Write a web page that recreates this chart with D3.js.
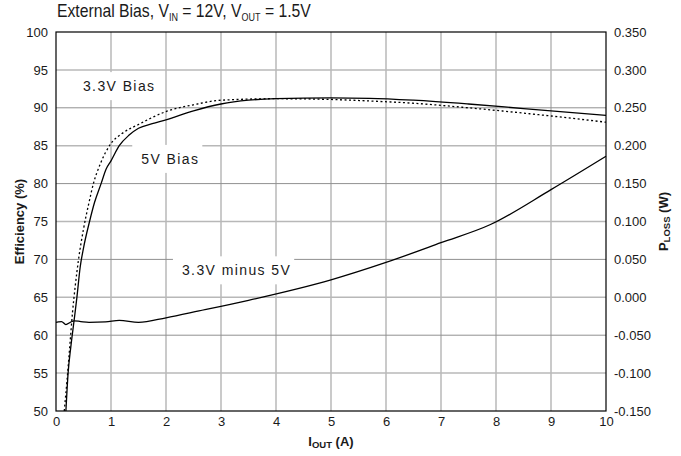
<!DOCTYPE html>
<html>
<head>
<meta charset="utf-8">
<script src="https://cdn.jsdelivr.net/npm/d3@7"></script>
<style>
  html, body { margin: 0; padding: 0; background: #fff; }
  svg { display: block; }
  text { font-family: Arial, "Liberation Sans", sans-serif; fill: #1a1a1a; }
</style>
</head>
<body>
<svg id="chart" width="681" height="456"></svg>
<script>
// ---- data ----
const xTicks = [0, 1, 2, 3, 4, 5, 6, 7, 8, 9, 10];
const effTicks = [50, 55, 60, 65, 70, 75, 80, 85, 90, 95, 100];
const lossTicks = [-0.15, -0.10, -0.05, 0.00, 0.05, 0.10, 0.15, 0.20, 0.25, 0.30, 0.35];

// 5V Bias efficiency (solid)
const iout5 = [0.18, 0.22, 0.27, 0.33, 0.38, 0.44, 0.5, 0.61, 0.7, 0.82, 0.91, 1.0, 1.15, 1.33, 1.5, 1.75, 2.0, 2.5, 3.0, 3.5, 4.0, 5.0, 5.7, 6.5, 7.5, 8.5, 10];
const eff5  = [50, 55, 58.5, 62, 65, 69, 71.5, 75, 77.5, 80, 81.9, 83, 85, 86.4, 87.3, 87.9, 88.4, 89.6, 90.5, 91.0, 91.2, 91.3, 91.25, 91.0, 90.5, 89.9, 89.0];

// 3.3V Bias efficiency (dotted)
const iout33 = [0.15, 0.2, 0.25, 0.3, 0.35, 0.41, 0.5, 0.6, 0.68, 0.8, 1.0, 1.2, 1.5, 2.0, 2.5, 3.0, 4.0, 5.0, 5.7, 6.5, 7.5, 8.5, 10];
const eff33  = [50, 54, 58.5, 63, 66.5, 70, 74, 77.5, 80, 82.5, 85.3, 86.6, 87.8, 89.5, 90.4, 91.0, 91.2, 91.1, 90.9, 90.6, 90.0, 89.3, 88.1];

// 3.3V minus 5V power loss (W, right axis)
const ioutLoss = [0, 0.04, 0.1, 0.18, 0.26, 0.33, 0.45, 0.6, 0.9, 1.15, 1.5, 2.0, 2.6, 3.5, 5.0, 6.0, 7.0, 7.9, 9.0, 10];
const pLoss    = [-0.033, -0.0325, -0.032, -0.036, -0.033, -0.031, -0.032, -0.033, -0.0325, -0.0305, -0.033, -0.027, -0.018, -0.004, 0.023, 0.046, 0.072, 0.096, 0.142, 0.186];

// in-plot series labels
const labelText = ["3.3V Bias", "5V Bias", "3.3V minus 5V"];
const labelAt = [[0.49, 92.2], [1.55, 82.6], [2.29, 67.9]];

// ---- layout ----
const svg = d3.select("#chart");
const L = 56, R = 606, T = 32, B = 411;
const x = d3.scaleLinear().domain([0, 10]).range([L, R]);
const yL = d3.scaleLinear().domain([50, 100]).range([B, T]);
const yR = d3.scaleLinear().domain([-0.15, 0.35]).range([B, T]);

// gridlines
const grid = svg.append("g");
grid.selectAll("line.v").data(xTicks.slice(1, -1)).enter().append("line")
  .attr("x1", d => x(d)).attr("x2", d => x(d)).attr("y1", T).attr("y2", B)
  .attr("stroke", "#b8b8b8").attr("stroke-width", 1.5);
grid.selectAll("line.h").data(effTicks.slice(1, -1)).enter().append("line")
  .attr("x1", L).attr("x2", R).attr("y1", d => yL(d)).attr("y2", d => yL(d))
  .attr("stroke", d => d % 10 === 0 ? "#909090" : "#b8b8b8")
  .attr("stroke-width", d => d % 10 === 0 ? 1 : 1.5);

// in-plot labels with white boxes
const lg = svg.append("g");
labelText.forEach((t, i) => {
  const tx = lg.append("text").attr("x", x(labelAt[i][0])).attr("y", yL(labelAt[i][1]))
    .attr("font-size", 14).attr("letter-spacing", 1.4).text(t);
  const bb = tx.node().getBBox();
  lg.insert("rect", "text").attr("x", bb.x - 9).attr("y", bb.y - 6)
    .attr("width", bb.width + 12).attr("height", bb.height + 12).attr("fill", "#fff");
});
lg.selectAll("text").raise();

// curves
const lineL = d3.line().x(d => x(d[0])).y(d => yL(d[1])).curve(d3.curveMonotoneX);
const lineR = d3.line().x(d => x(d[0])).y(d => yR(d[1])).curve(d3.curveMonotoneX);

svg.append("path").datum(iout5.map((v, i) => [v, eff5[i]]))
  .attr("d", lineL).attr("fill", "none").attr("stroke", "#000").attr("stroke-width", 1.3);
svg.append("path").datum(iout33.map((v, i) => [v, eff33[i]]))
  .attr("d", lineL).attr("fill", "none").attr("stroke", "#000").attr("stroke-width", 1.3)
  .attr("stroke-dasharray", "2,2.5");
svg.append("path").datum(ioutLoss.map((v, i) => [v, pLoss[i]]))
  .attr("d", lineR).attr("fill", "none").attr("stroke", "#000").attr("stroke-width", 1.3);

// frame
svg.append("rect").attr("x", L).attr("y", T).attr("width", R - L).attr("height", B - T)
  .attr("fill", "none").attr("stroke", "#000").attr("stroke-width", 1.2);

// axes (labels only, no tick marks)
const axB = svg.append("g").attr("transform", `translate(0,${B})`)
  .call(d3.axisBottom(x).tickValues(xTicks).tickSize(0).tickPadding(6).tickFormat(d3.format("d")));
const axL = svg.append("g").attr("transform", `translate(${L},0)`)
  .call(d3.axisLeft(yL).tickValues(effTicks).tickSize(0).tickPadding(8).tickFormat(d3.format("d")));
const axR = svg.append("g").attr("transform", `translate(${R},0)`)
  .call(d3.axisRight(yR).tickValues(lossTicks).tickSize(0).tickPadding(8).tickFormat(d3.format(".3f")));
[axB, axL, axR].forEach(a => {
  a.select(".domain").remove();
  a.selectAll("text").attr("font-size", 13).attr("font-family", "Arial, 'Liberation Sans', sans-serif")
    .attr("fill", "#1a1a1a");
});
axR.selectAll("text").text(d => d3.format(".3f")(d).replace("−", "-"));

// title
const title = svg.append("text").attr("transform", "translate(57,17) scale(0.9,1)")
  .attr("font-size", 17.5).attr("font-family", "Roboto, 'Open Sans', sans-serif");
title.append("tspan").text("External Bias, V");
title.append("tspan").attr("dy", 4).attr("font-size", 10).text("IN");
title.append("tspan").attr("dy", -4).text(" = 12V, V");
title.append("tspan").attr("dy", 4).attr("font-size", 10).text("OUT");
title.append("tspan").attr("dy", -4).text(" = 1.5V");

// x label
const xl = svg.append("text").attr("x", 331).attr("y", 446).attr("text-anchor", "middle")
  .attr("font-size", 13).attr("font-weight", "bold");
xl.append("tspan").text("I");
xl.append("tspan").attr("font-size", 9.5).attr("dy", 2).text("OUT");
xl.append("tspan").attr("dy", -2).text(" (A)");

// left y label
svg.append("text").attr("transform", `translate(24,${(T + B) / 2}) rotate(-90)`)
  .attr("text-anchor", "middle").attr("font-size", 13).attr("font-weight", "bold")
  .text("Efficiency (%)");

// right y label
const yr = svg.append("text").attr("transform", `translate(668,${(T + B) / 2}) rotate(-90)`)
  .attr("text-anchor", "middle").attr("font-size", 13).attr("font-weight", "bold");
yr.append("tspan").text("P");
yr.append("tspan").attr("font-size", 9.5).attr("dy", 2).text("LOSS");
yr.append("tspan").attr("dy", -2).text(" (W)");
</script>
</body>
</html>
